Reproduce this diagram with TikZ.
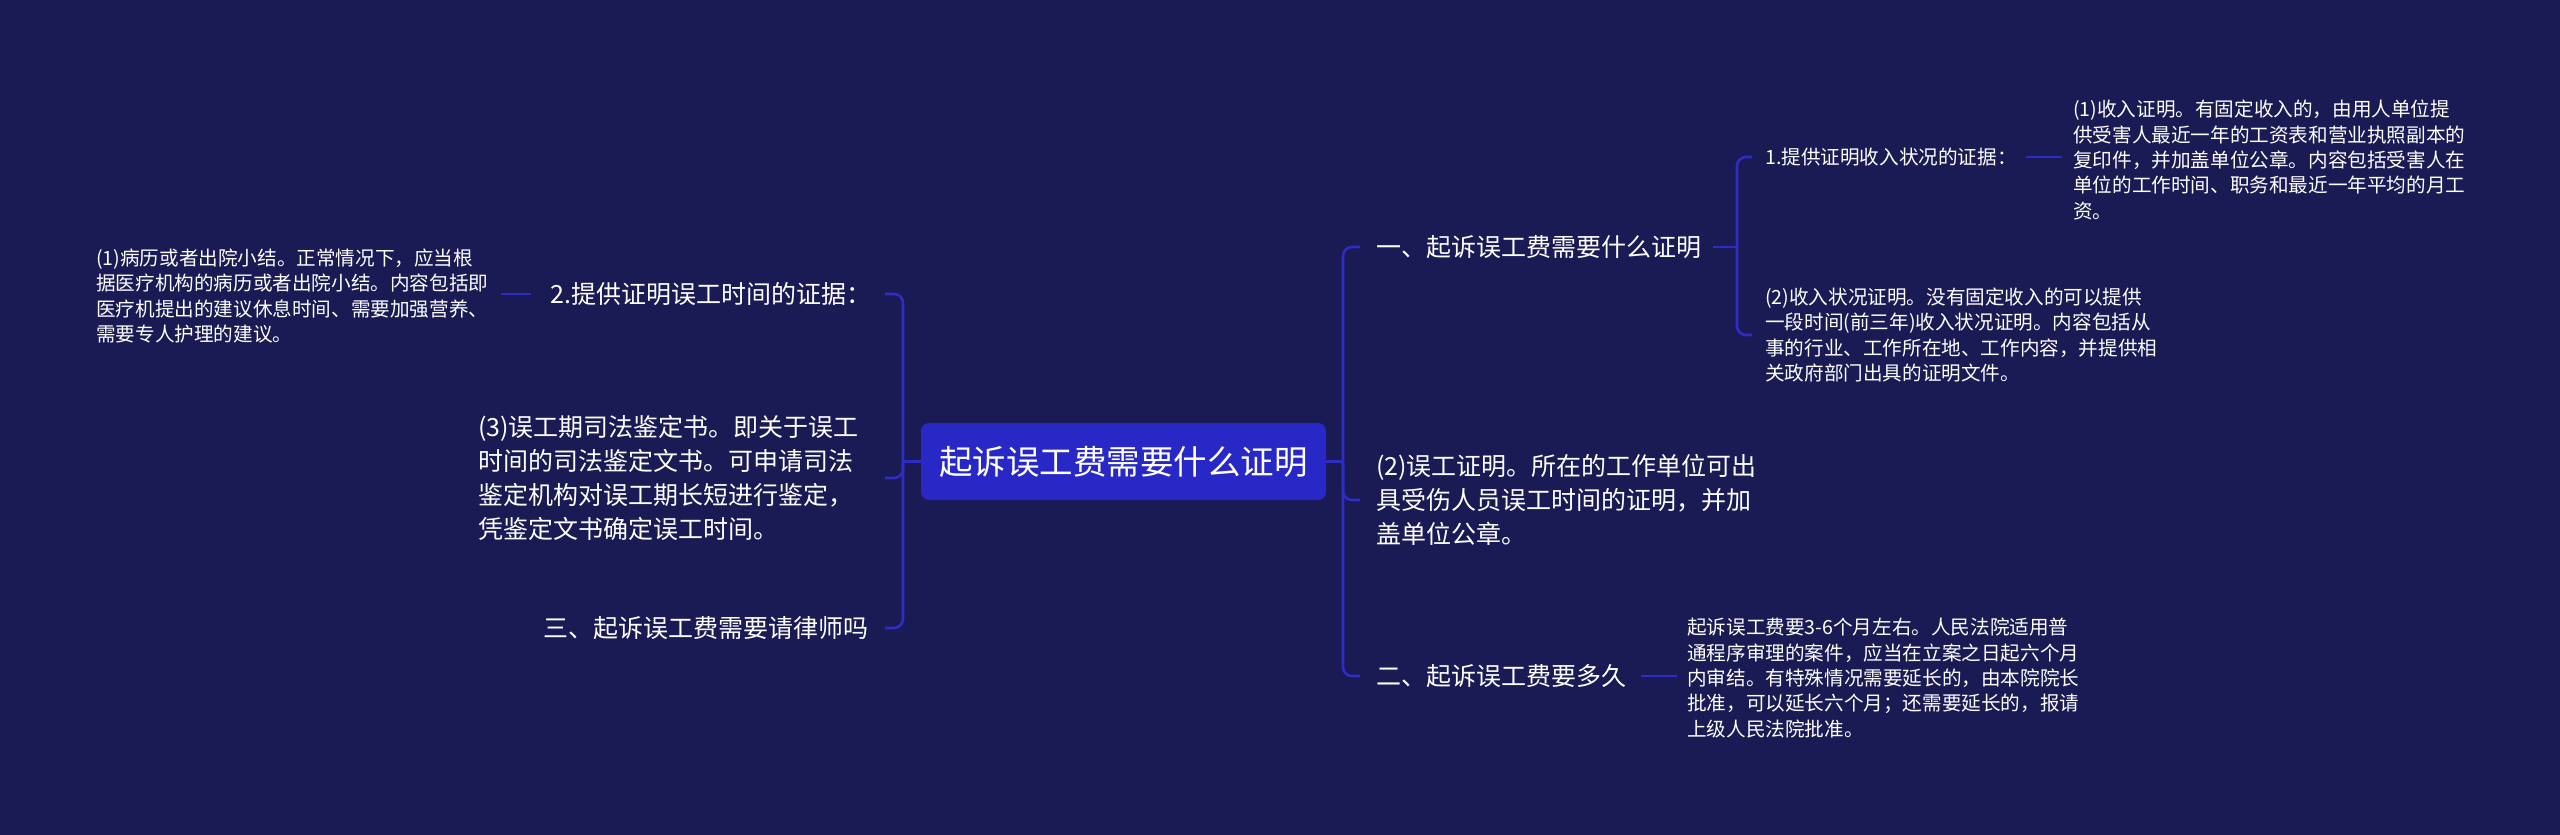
\documentclass[tikz,border=0pt]{standalone}
\usepackage{fontspec}
\setmainfont{Noto Sans CJK SC}
\definecolor{bgc}{HTML}{1A1A54}
\definecolor{rootc}{HTML}{2828C6}
\definecolor{linec}{HTML}{2D2DC4}
\begin{document}
\begin{tikzpicture}[x=1pt,y=-1pt,
  conn/.style={draw=linec,line width=2.6pt,rounded corners=9pt},
  txt/.style={text=white,inner sep=0pt,anchor=west,align=left},
  big/.style={txt,font=\fontsize{25}{34}\selectfont},
  small/.style={txt,font=\fontsize{19.6}{25.3}\selectfont},
  rootbox/.style={fill=rootc,rounded corners=8pt,text=white,minimum width=405pt,minimum height=77pt,inner sep=0pt,font=\fontsize{33.5}{33.5}\selectfont}]
\fill[bgc] (0,0) rectangle (2560,835);
\useasboundingbox (0,0) rectangle (2560,835);

\node[rootbox] (root) at (1123.5,461.5) {起诉误工费需要什么证明};

% left side
\node[big] (L1) at (550,294) {2.提供证明误工时间的证据：};
\node[small] (L11) at (96,296) {(1)病历或者出院小结。正常情况下，应当根\\据医疗机构的病历或者出院小结。内容包括即\\医疗机提出的建议休息时间、需要加强营养、\\需要专人护理的建议。};
\node[big] (L2) at (478,478) {(3)误工期司法鉴定书。即关于误工\\时间的司法鉴定文书。可申请司法\\鉴定机构对误工期长短进行鉴定，\\凭鉴定文书确定误工时间。};
\node[big] (L3) at (543,628) {三、起诉误工费需要请律师吗};

% right side
\node[big] (R1) at (1376,247) {一、起诉误工费需要什么证明};
\node[big] (R2) at (1376,500) {(2)误工证明。所在的工作单位可出\\具受伤人员误工时间的证明，并加\\盖单位公章。};
\node[big] (R3) at (1376,676) {二、起诉误工费要多久};
\node[small] (R11) at (1765,157) {1.提供证明收入状况的证据：};
\node[small] (R111) at (2073,160) {(1)收入证明。有固定收入的，由用人单位提\\供受害人最近一年的工资表和营业执照副本的\\复印件，并加盖单位公章。内容包括受害人在\\单位的工作时间、职务和最近一年平均的月工\\资。};
\node[small] (R12) at (1765,335) {(2)收入状况证明。没有固定收入的可以提供\\一段时间(前三年)收入状况证明。内容包括从\\事的行业、工作所在地、工作内容，并提供相\\关政府部门出具的证明文件。};
\node[small] (R31) at (1687,678) {起诉误工费要3-6个月左右。人民法院适用普\\通程序审理的案件，应当在立案之日起六个月\\内审结。有特殊情况需要延长的，由本院院长\\批准，可以延长六个月；还需要延长的，报请\\上级人民法院批准。};

% junction coordinates
\coordinate (lj) at (903,461.5);
\coordinate (le) at (885,0);
\coordinate (rj) at (1343,461.5);
\coordinate (re) at (1360,0);
\coordinate (r1j) at (1737,247);
\coordinate (r1e) at (1752,0);

% left connectors
\draw[conn] (root.west) -- (lj);
\draw[conn] (lj) |- (L1 -| le);
\draw[conn] (lj) |- (L2 -| le);
\draw[conn] (lj) |- (L3 -| le);
\draw[conn] ([xshift=-19pt]L1.west) -- ([xshift=-49pt]L1.west);

% right connectors
\draw[conn] (root.east) -- (rj);
\draw[conn] (rj) |- (R1 -| re);
\draw[conn] (rj) |- (R2 -| re);
\draw[conn] (rj) |- (R3 -| re);
\draw[conn] ([xshift=12pt]R1.east) -- (r1j);
\draw[conn] (r1j) |- (R11 -| r1e);
\draw[conn] (r1j) |- (R12 -| r1e);
\draw[conn] ([xshift=9pt]R11.east) -- ([xshift=-11pt]R111.west |- R11.east);
\draw[conn] ([xshift=15pt]R3.east) -- ([xshift=-10pt]R31.west |- R3.east);
\end{tikzpicture}
\end{document}
